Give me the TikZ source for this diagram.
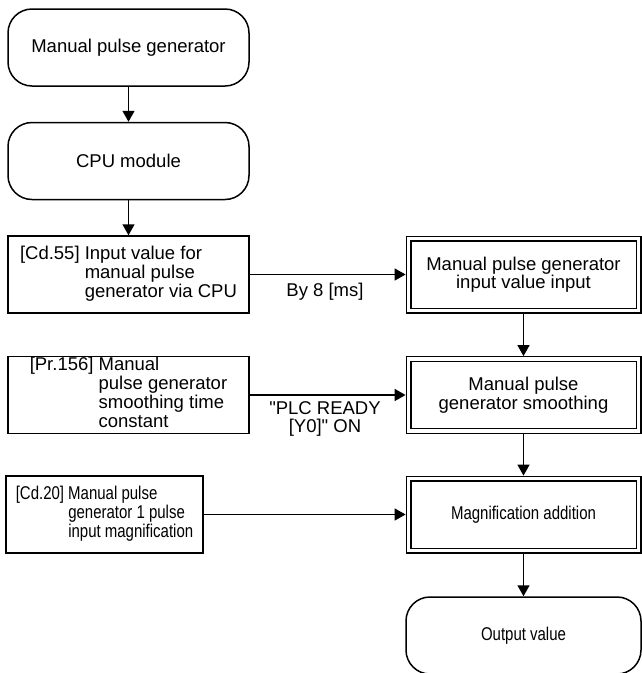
\documentclass[tikz,border=0pt]{standalone}
\usepackage{fontspec}
\setmainfont{Liberation Sans}
\usetikzlibrary{arrows.meta}

\newcommand{\narrowtext}[1]{\scalebox{0.81}[1]{#1}}

\tikzset{
  flowline/.style={line width=1.5pt, -{Triangle[length=11pt,width=12pt]}},
  termbox/.style={draw, line width=1.5pt, rounded corners=24pt, minimum height=77pt, align=center},
  databox/.style={draw, line width=1.5pt, minimum height=77pt, inner sep=0pt},
  procbox/.style={draw, line width=1.2pt, double, double distance=3.6pt, outer sep=2.9pt,
    minimum width=230pt, minimum height=72pt, align=center}
}

\begin{document}
\begin{tikzpicture}[x=1pt, y=-1pt, font=\fontsize{18.5}{18.5}\selectfont]
        \useasboundingbox (0,0) rectangle (642,673);
        % left column
        \node[termbox, minimum width=241pt] (mpg) at (128.5, 47.5) {Manual pulse generator};
        \node[termbox, minimum width=241pt] (cpu) at (128.5, 161) {CPU module};
        \node[databox, minimum width=241pt] (cd55) at (128.5, 274.5) {\begin{tabular}{@{}l@{\ }l@{}}[Cd.55] & Input value for\\ & manual pulse\\ & generator via CPU\end{tabular}};
        \node[databox, minimum width=241pt] (pr156) at (128.5, 395) {\begin{tabular}{@{}l@{\ }l@{}}[Pr.156] & Manual\\ & pulse generator\\ & smoothing time\\ & constant\end{tabular}};
        \node[databox, minimum width=197pt] (cd20) at (104.5, 514.5) {\narrowtext{\begin{tabular}{@{}l@{\ }l@{}}[Cd.20] & Manual pulse\\ & generator 1 pulse\\ & input magnification\end{tabular}}};
        % right column
        \node[procbox] (inp) at (523.5, 274.5) {Manual pulse generator\\input value input};
        \node[procbox] (smo) at (523.5, 395) {Manual pulse\\generator smoothing};
        \node[procbox] (mag) at (523.5, 514.5) {\narrowtext{Magnification addition}};
        \node[termbox, minimum width=235pt] (outv) at (523.5, 635.5) {\narrowtext{Output value}};
        % labels
        \node (by8) at (325, 292) {By 8 [ms]};
        \node[align=center] (plcrdy) at (325, 419) {\textquotedbl PLC READY\\{}[Y0]\textquotedbl{} ON};
        % connectors
        \draw[flowline] (mpg) -- (cpu);
        \draw[flowline] (cpu) -- (cd55);
        \draw[flowline] (cd55) -- (inp);
        \draw[flowline] (pr156) -- (smo);
        \draw[flowline] (cd20) -- (mag);
        \draw[flowline] (inp) -- (smo);
        \draw[flowline] (smo) -- (mag);
        \draw[flowline] (mag) -- (outv);
      \end{tikzpicture}
\end{document}
